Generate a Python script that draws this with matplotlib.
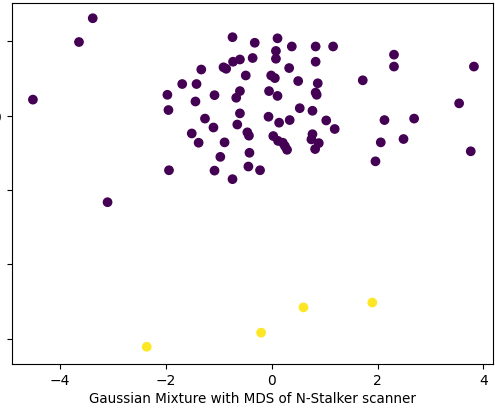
import matplotlib
matplotlib.use("Agg")
import matplotlib.pyplot as plt
import numpy as np

# MDS coordinates of the main cluster (component 0)
x_main = [-3.38, -3.64, -4.51, -0.74, -0.73, -0.60, -1.33, -0.91, -0.86, -0.49,
          -1.69, -1.42, -1.97, -1.08, -0.60, -0.67, -1.95, -1.44, -0.60, -1.26,
          -1.10, -0.65, -1.51, -1.38, -0.89, -0.46, -0.43, -0.97, -0.42, -1.94,
          -1.08, -0.74, -0.44, -3.10, -0.36, -0.32, 0.11, 0.38, 0.83, 1.16,
          0.08, 0.08, 0.33, 0.83, 2.31, 2.31, 3.82, 1.72, -0.01, 0.06,
          0.50, 0.87, -0.05, 0.11, 0.83, 0.85, 0.53, 0.77, 3.54, -0.06,
          0.14, 0.34, 1.03, 2.13, 2.69, 1.19, 0.03, 0.12, 0.21, 0.25,
          0.29, 0.77, 0.75, 0.89, 0.82, 2.06, 2.49, 3.76, -0.22, 1.96]
y_main = [2.62, 1.98, 0.43, 2.11, 1.45, 1.51, 1.24, 1.30, 1.26, 1.08,
          0.85, 0.85, 0.56, 0.55, 0.66, 0.48, 0.15, 0.38, 0.06, -0.08,
          -0.32, -0.24, -0.48, -0.73, -0.72, -0.45, -0.54, -1.11, -1.00, -1.47,
          -1.48, -1.71, -1.37, -2.33, 1.55, 1.96, 2.08, 1.86, 1.86, 1.86,
          1.74, 1.53, 1.28, 1.45, 1.64, 1.32, 1.32, 0.95, 1.08, 1.01,
          0.93, 0.87, 0.66, 0.53, 0.62, 0.56, 0.20, 0.13, 0.33, -0.03,
          -0.19, -0.12, -0.13, -0.12, -0.08, -0.36, -0.55, -0.68, -0.73, -0.82,
          -0.92, -0.50, -0.64, -0.74, -0.90, -0.72, -0.63, -0.96, -1.47, -1.23]

# MDS coordinates of the small cluster (component 1)
x_minor = [-2.36, -0.20, 0.60, 1.90]
y_minor = [-6.22, -5.84, -5.16, -5.03]

x = np.array(x_main + x_minor)
y = np.array(y_main + y_minor)
labels = np.array([0] * len(x_main) + [1] * len(x_minor))

fig = plt.figure(figsize=(4.95, 4.10), dpi=100)
ax = fig.add_axes([12 / 495, 1 - 364.5 / 410, 481 / 495, 360.5 / 410])
ax.scatter(x, y, c=labels, cmap="viridis")
ax.set_xlim(-4.905, 4.18)
ax.set_ylim(-6.67, 3.03)
ax.set_xticks([-4, -2, 0, 2, 4])
ax.set_yticks([-6, -4, -2, 0, 2])
ax.tick_params(axis="y", pad=4.5)
ax.set_xlabel("Gaussian Mixture with MDS of N-Stalker scanner",
              fontsize=9.75, labelpad=2.5)
fig.savefig("out.png", dpi=100)
